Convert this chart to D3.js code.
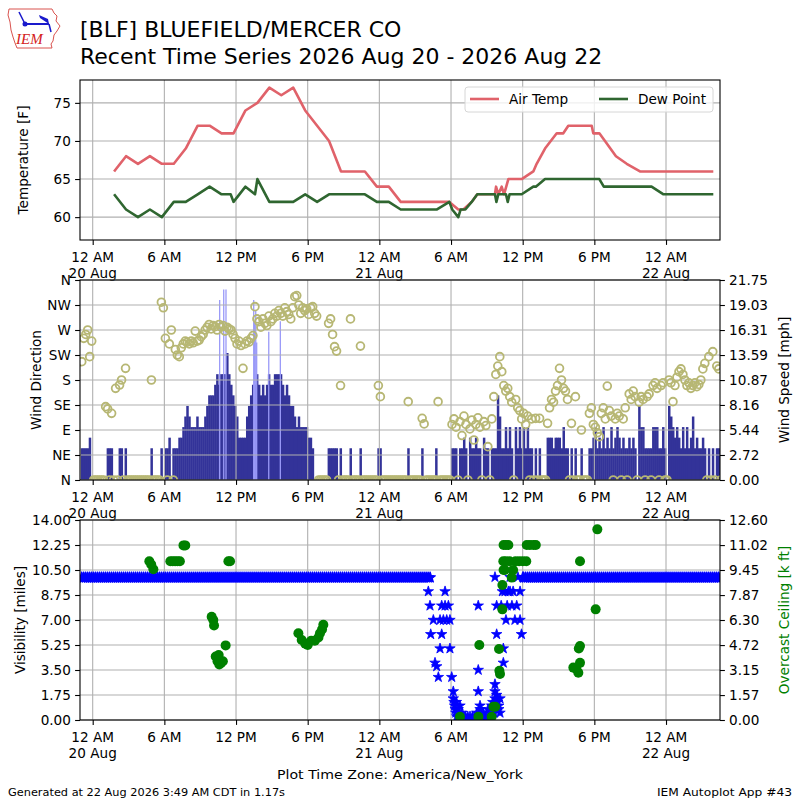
<!DOCTYPE html>
<html>
<head>
<meta charset="utf-8">
<script src="https://cdn.jsdelivr.net/npm/d3@7"></script>
<style>
html,body{margin:0;padding:0;background:#fff;}
svg{display:block;}
</style>
</head>
<body>
<svg id="chart" width="800" height="800"></svg>
<script>
// ======================= DATA =======================
const titleLines = ["[BLF] BLUEFIELD/MERCER CO", "Recent Time Series 2026 Aug 20 - 2026 Aug 22"];
const footerLeft = "Generated at 22 Aug 2026 3:49 AM CDT in 1.17s";
const footerRight = "IEM Autoplot App #43";
const timeZoneLabel = "Plot Time Zone: America/New_York";

// x axis: hours since 20 Aug 00:00 (America/New_York)
const xTickHours = [0, 6, 12, 18, 24, 30, 36, 42, 48];
const xTickLabels = [["12 AM","20 Aug"],["6 AM"],["12 PM"],["6 PM"],["12 AM","21 Aug"],["6 AM"],["12 PM"],["6 PM"],["12 AM","22 Aug"]];

// ---- temperature panel ----
const tempTicks = [60, 65, 70, 75];
const legendLabels = ["Air Temp", "Dew Point"];
const airTempHours = [1.79,2.79,3.79,4.79,5.79,6.79,7.79,8.79,9.79,10.79,11.79,12.79,13.79,14.79,15.79,16.79,17.79,18.79,19.79,20.79,21.79,22.79,23.79,24.79,25.79,26.79,27.79,28.79,
  29.86,30.61,31.03,31.73,32.2,33.68,33.77,33.96,34.24,34.44,34.8,35.92,36.89,37.17,37.87,38.85,39.4,39.82,40.79,41.78,41.91,42.42,42.89,43.81,44.71,45.82,46.79,47.79,48.79,49.79,50.79,51.96];
const airTempF = [66,68,67,68,67,67,69,72,72,71,71,74,75,77,76,77,74,72,70,66,66,66,64,64,62,62,62,62,
  62,61,61,62,63,63,64,63,64,63,65,65,66,67,69,71,71,72,72,72,71,71,70,68,67,66,66,66,66,66,66,66];
const dewPointHours = [1.79,2.79,3.79,4.79,5.79,6.79,7.79,8.79,9.79,10.79,11.55,11.79,12.79,13.59,13.79,14.79,15.79,16.79,17.79,18.79,19.79,20.79,21.79,22.79,23.79,24.79,25.79,26.79,27.79,28.79,
  29.86,30.1,30.61,30.8,31.2,31.73,32.2,33.68,33.8,33.96,34.6,34.75,34.9,35.92,36.89,37.1,37.87,42.42,42.79,46.79,47.79,51.96];
const dewPointF = [63,61,60,61,60,62,62,63,64,63,63,62,64,63,65,62,62,62,63,62,63,63,63,63,62,62,61,61,61,61,
  62,61,60,61,61,62,63,63,62,63,63,62,63,63,64,64,65,65,64,64,63,63];

// ---- wind panel (10-minute slots starting 19 Aug 23:00) ----
const SLOT_START_HOUR = -1;
const SLOT_HOURS = 1 / 6;
const KT_TO_MPH = 1.15078;
const dirTicks = [0, 45, 90, 135, 180, 225, 270, 315, 360];
const dirTickLabels = ["N","NE","E","SE","S","SW","W","NW","N"];
const speedTicksMph = [0, 2.72, 5.44, 8.16, 10.87, 13.59, 16.31, 19.03, 21.75];
const windSpeedKt = [
  3,3,3,3,4,0,0,0,0,0,  0,0,0,3,3,3,0,0,0,3,  3,0,3,0,0,0,0,0,0,0,  0,0,0,0,0,3,0,0,0,0,
  3,0,3,3,4,0,3,3,3,4,  4,5,6,7,6,5,5,5,6,5,  5,5,6,7,8,8,8,9,10,9,  10,10,10,12,10,9,8,7,6,4,
  4,4,4,6,7,8,9,9,10,9,  8,9,8,9,10,9,9,10,10,10,  10,9,8,9,8,7,7,6,5,6,  5,5,5,5,4,4,3,0,0,0,
  0,0,0,0,3,3,3,3,3,0,  3,0,0,0,0,3,0,0,0,0,  3,0,0,0,0,0,0,0,0,3,  3,0,0,0,0,0,0,0,0,0,
  0,0,0,0,3,0,0,0,0,0,  0,3,0,0,0,0,0,0,3,0,  0,0,0,0,0,0,3,3,3,0,  3,3,4,3,0,4,3,3,4,3,
  3,0,4,3,3,0,3,3,3,8,  6,3,3,5,3,5,3,0,5,3,  5,3,5,3,5,3,3,0,3,0,  3,0,0,0,4,4,4,3,4,4,
  4,3,5,3,3,0,3,0,3,0,  0,3,0,0,0,3,3,4,5,3,  4,3,5,3,4,3,5,3,4,5,  4,3,4,3,3,4,3,4,3,0,
  7,5,5,3,3,3,3,5,5,5,  3,3,5,3,0,7,6,5,4,5,  4,3,5,3,5,3,4,6,3,4,  3,3,4,3,0,3,0,3,0,3,
  3,0];
// direction in degrees, 0 = calm
const windDirDeg = [
  213,255,262,270,222,250,0,0,0,0,  0,0,132,128,0,120,0,165,0,171,  180,0,201,0,0,0,0,0,0,0,  0,0,0,0,0,180,0,0,0,0,
  320,310,255,0,245,270,0,235,225,222,  238,245,250,248,245,250,247,268,250,252,  258,262,270,275,280,272,278,276,270,280,  275,278,268,275,272,270,262,255,245,250,
  242,201,245,250,248,255,260,312,290,285,  275,290,282,278,295,285,290,300,295,305,  300,295,310,303,298,290,310,330,332,315,  300,310,305,308,298,310,312,300,295,0,
  0,0,0,0,282,290,262,240,232,0,  170,0,0,0,0,290,0,0,0,0,  241,0,0,0,0,0,0,0,0,170,  150,0,0,0,0,0,0,0,0,0,
  0,0,0,0,141,0,0,0,0,0,  0,111,101,0,0,0,0,0,0,141,  0,0,0,0,0,0,100,110,95,0,  105,80,115,100,0,92,108,72,100,112,
  95,0,105,98,60,0,110,150,190,205,  222,195,170,160,165,150,140,0,145,130,  125,110,120,100,115,0,110,0,111,0,  111,0,0,0,102,130,145,140,160,170,
  201,180,165,160,145,0,102,0,150,0,  0,90,0,0,0,120,130,100,95,85,  78,120,130,110,169,125,115,0,110,120,  115,0,110,130,0,155,145,160,150,0,
  140,150,145,0,150,155,0,170,175,165,  0,170,175,0,0,180,175,141,170,185,  195,200,190,180,170,175,165,170,175,168,  172,180,200,210,0,222,0,231,0,205,
  200,0];
const gustHours = [10.63,10.97,11.16,13.48,13.56,13.65,13.73,14.74,15.71];
const gustKt = [17,18,18,17,15,16,13,14,15];

// ---- visibility / ceiling panel ----
const visTicks = [0, 1.75, 3.5, 5.25, 7, 8.75, 10.5, 12.25, 14];
const ceilTicks = [0, 1.57, 3.15, 4.72, 6.30, 7.87, 9.45, 11.02, 12.60];
const visSlotMiles = [
  10,10,10,10,10,10,10,10,10,10,10,10,10,10,10,10,10,10,10,10,
  10,10,10,10,10,10,10,10,10,10,10,10,10,10,10,10,10,10,10,10,
  10,10,10,10,10,10,10,10,10,10,10,10,10,10,10,10,10,10,10,10,
  10,10,10,10,10,10,10,10,10,10,10,10,10,10,10,10,10,10,10,10,
  10,10,10,10,10,10,10,10,10,10,10,10,10,10,10,10,10,10,10,10,
  10,10,10,10,10,10,10,10,10,10,10,10,10,10,10,10,10,10,10,10,
  10,10,10,10,10,10,10,10,10,10,10,10,10,10,10,10,10,10,10,10,
  10,10,10,10,10,10,10,10,10,10,10,10,10,10,10,10,10,10,10,10,
  10,10,10,10,10,10,10,10,10,10,10,10,10,10,10,10,
  null,null,null,null,null,null,null,null,null,null,null,null,null,null,null,null,null,null,null,null,
  null,null,null,null,null,null,null,null,null,null,null,null,null,null,null,null,null,null,null,null,
  null,null,null,null,null,null,
  10,10,10,10,10,10,10,10,10,10,10,10,10,10,10,10,10,10,10,10,
  10,10,10,10,10,10,10,10,10,10,10,10,10,10,10,10,10,10,10,10,
  10,10,10,10,10,10,10,10,10,10,10,10,10,10,10,10,10,10,10,10,
  10,10,10,10,10,10,10,10,10,10,10,10,10,10,10,10,10,10,10,10,
  10,10,10,10,10,10,10,10,10,10,10,10,10,10,10,10,10,10,10,10];
const visObsHours = [28.1,28.24,28.3,28.52,28.66,28.8,28.94,29.08,29.08,29.22,29.22,29.36,29.5,29.5,29.64,29.78,29.91,29.91,30.06,30.19,30.19,30.25,30.3,30.35,30.4,30.45,30.48,30.6,30.6,30.75,30.75,30.9,30.9,31.03,31.2,31.4,31.59,31.8,32.0,32.15,32.28,32.28,32.28,32.43,32.43,32.43,32.6,32.7,32.85,33.0,33.1,33.26,33.26,33.4,33.5,33.6,33.68,33.68,33.68,33.68,33.75,33.82,33.82,33.82,33.9,34.0,34.0,34.1,34.1,34.2,34.3,34.38,34.38,34.52,34.6,34.7,34.8,34.94,34.94,35.1,35.2,35.35,35.5,35.6,35.78,35.78,35.9,36.0];
const visObsMiles = [9,8,6,7,4,3.75,3,7,5,8,6,7,9,8,7,8,7,5,3,2,1.5,1.25,1,0.75,0.5,1.25,0.25,0.25,0.75,0.25,1,0.25,0.5,0.25,0.25,0.25,0.25,0.25,0.25,0.5,2,3.5,8,1,0.75,0.25,0.25,0.5,0.25,0.25,0.75,0.25,0.5,1,1.25,0.5,10,1.5,2,2.5,0.75,8,6,1.75,1.25,1,0.75,0.5,1.5,8,9,5,4,9,7,8,9,10,9,8,9,7,8,10,7,9,6,10];
const ceilHours = [4.74,4.9,5.08,6.5,6.7,6.9,7.1,7.3,7.6,7.75,9.96,10.1,10.16,10.3,10.45,10.55,10.6,10.75,10.9,11.13,11.36,11.5,
  17.22,17.5,17.8,18.0,18.3,18.6,18.9,19.03,19.2,19.31,
  30.75,32.29,32.37,33.4,33.55,33.7,34.02,34.05,34.1,34.3,34.3,34.4,34.5,34.4,34.6,34.8,34.38,34.6,34.9,35.08,35.2,35.4,35.7,36.0,36.3,36.34,36.6,36.89,37.1,
  40.24,40.5,40.66,40.8,40.8,40.7,40.8,42.11,42.25];
const ceilKft = [10.0,9.8,9.5,10,10,10,10,10,11,11,6.5,6.3,5.95,4.0,3.7,4.1,3.5,3.6,3.7,4.7,10.0,10.0,
  5.46,5.04,4.8,4.73,5.0,5.0,5.2,5.46,5.7,6.0,
  0.2,0.2,4.73,0.2,0.84,0.84,4.47,3.1,2.9,6.97,8.5,9.45,9.45,11.03,11.03,11.03,10,10,10,8.97,9.45,10,10,10,10,11.03,11.03,11.03,11.03,
  3.3,3.2,2.98,3.6,4.66,4.5,10,6.97,12.01];

// ======================= STYLE =======================
const FONT = "'DejaVu Sans', sans-serif";
const FS = 13.6;
const GRID = "#b0b0b0";
const AIR = "#e0626a";
const DEW = "#2f6630";
const BAR = "#333399";
const GUST = "#9a9af8";
const DIRC = "#b7b774";
const VISC = "#0000ff";
const CEILC = "#008000";

// ======================= CHART =======================
const svg = d3.select("#chart");
svg.append("rect").attr("width", 800).attr("height", 800).attr("fill", "#fff");

const P = { t: {top: 80, bottom: 240}, w: {top: 280, bottom: 480}, v: {top: 520, bottom: 720} };
const x = d3.scaleLinear().domain([-1.063, 52.52]).range([80, 720]);
const yT = d3.scaleLinear().domain([57, 78]).range([P.t.bottom, P.t.top]);
const yDir = d3.scaleLinear().domain([0, 360]).range([P.w.bottom, P.w.top]);
const ySpd = d3.scaleLinear().domain([0, 21.75]).range([P.w.bottom, P.w.top]);
const yVis = d3.scaleLinear().domain([0, 14]).range([P.v.bottom, P.v.top]);
const yCeil = d3.scaleLinear().domain([0, 12.6]).range([P.v.bottom, P.v.top]);
const slotHour = i => SLOT_START_HOUR + i * SLOT_HOURS;

const defs = svg.append("defs");
function addClip(id, p) {
  defs.append("clipPath").attr("id", id).append("rect")
    .attr("x", 80).attr("y", p.top).attr("width", 640).attr("height", p.bottom - p.top);
}
addClip("clipT", P.t); addClip("clipW", P.w); addClip("clipV", P.v);

function grid(p, yScale, yTicks) {
  const g = svg.append("g");
  g.selectAll("line.gv").data(xTickHours).join("line").attr("class", "gv")
    .attr("x1", d => x(d)).attr("x2", d => x(d)).attr("y1", p.top).attr("y2", p.bottom)
    .attr("stroke", GRID).attr("stroke-width", 1.1);
  g.selectAll("line.gh").data(yTicks).join("line").attr("class", "gh")
    .attr("x1", 80).attr("x2", 720).attr("y1", d => yScale(d)).attr("y2", d => yScale(d))
    .attr("stroke", GRID).attr("stroke-width", 1.1);
}
function styleAxis(g) {
  g.select(".domain").remove();
  g.attr("font-size", null).attr("font-family", null);
  g.selectAll(".tick line").attr("stroke", "#000").attr("stroke-width", 1.1);
  g.selectAll(".tick text").attr("font-size", FS).attr("font-family", FONT).attr("fill", "#000");
}
function xAxis(p) {
  const g = svg.append("g").attr("transform", `translate(0,${p.bottom})`)
    .call(d3.axisBottom(x).tickValues(xTickHours).tickSize(4.9).tickFormat(() => ""));
  styleAxis(g);
  g.selectAll(".tick text").remove();
  const lab = svg.append("g").attr("font-family", FONT).attr("font-size", FS);
  xTickHours.forEach((h, i) => {
    const t = lab.append("text").attr("x", x(h)).attr("y", p.bottom + 21.5).attr("text-anchor", "middle");
    xTickLabels[i].forEach((s, j) => t.append("tspan").attr("x", x(h)).attr("dy", j === 0 ? 0 : 16.6).text(s));
  });
}
function leftAxis(scale, ticks, fmt) {
  const g = svg.append("g").attr("transform", "translate(80,0)")
    .call(d3.axisLeft(scale).tickValues(ticks).tickSize(4.9).tickPadding(4.2).tickFormat(fmt));
  styleAxis(g);
}
function rightAxis(scale, ticks, fmt) {
  const g = svg.append("g").attr("transform", "translate(720,0)")
    .call(d3.axisRight(scale).tickValues(ticks).tickSize(4.9).tickPadding(4.2).tickFormat(fmt));
  styleAxis(g);
}
function frame(p) {
  svg.append("rect").attr("x", 80).attr("y", p.top).attr("width", 640).attr("height", p.bottom - p.top)
    .attr("fill", "none").attr("stroke", "#000").attr("stroke-width", 1.1);
}
function vLabel(text, xpos, yc, color) {
  svg.append("text").attr("transform", `translate(${xpos},${yc}) rotate(-90)`)
    .attr("text-anchor", "middle").attr("font-family", FONT).attr("font-size", FS)
    .attr("fill", color || "#000").text(text);
}

// ---------- Panel 1: temperature ----------
grid(P.t, yT, tempTicks);
const gT = svg.append("g").attr("clip-path", "url(#clipT)");
const tLine = d3.line().x(d => x(d[0])).y(d => yT(d[1]));
gT.append("path").datum(d3.zip(airTempHours, airTempF)).attr("d", tLine)
  .attr("fill", "none").attr("stroke", AIR).attr("stroke-width", 2.6).attr("stroke-linejoin", "round");
gT.append("path").datum(d3.zip(dewPointHours, dewPointF)).attr("d", tLine)
  .attr("fill", "none").attr("stroke", DEW).attr("stroke-width", 2.6).attr("stroke-linejoin", "round");
leftAxis(yT, tempTicks, d => d);
xAxis(P.t);
frame(P.t);
vLabel("Temperature [F]", 28, 160);
// legend
const lg = svg.append("g").attr("font-family", FONT).attr("font-size", FS);
lg.append("rect").attr("x", 465).attr("y", 87).attr("width", 248).attr("height", 25).attr("rx", 3)
  .attr("fill", "#fff").attr("fill-opacity", 0.8).attr("stroke", "#d6d6d6");
[[AIR, 470, 509], [DEW, 599, 638]].forEach((c, i) => {
  lg.append("line").attr("x1", c[1]).attr("x2", c[1] + 29).attr("y1", 99).attr("y2", 99)
    .attr("stroke", c[0]).attr("stroke-width", 2.6);
  lg.append("text").attr("x", c[2]).attr("y", 104).text(legendLabels[i]);
});

// ---------- Panel 2: wind ----------
const gW = svg.append("g").attr("clip-path", "url(#clipW)");
gW.selectAll("rect.spd").data(windSpeedKt.map((v, i) => ({i, v})).filter(d => d.v > 0)).join("rect")
  .attr("class", "spd")
  .attr("x", d => x(slotHour(d.i))).attr("width", d => x(slotHour(d.i + 1)) - x(slotHour(d.i)) + 0.5)
  .attr("y", d => ySpd(d.v * KT_TO_MPH)).attr("height", d => ySpd(0) - ySpd(d.v * KT_TO_MPH))
  .attr("fill", BAR);
gW.selectAll("line.gust").data(d3.zip(gustHours, gustKt)).join("line").attr("class", "gust")
  .attr("x1", d => x(d[0])).attr("x2", d => x(d[0]))
  .attr("y1", ySpd(0)).attr("y2", d => ySpd(d[1] * KT_TO_MPH))
  .attr("stroke", GUST).attr("stroke-width", 1.3);
grid(P.w, yDir, dirTicks);
const gW2 = svg.append("g").attr("clip-path", "url(#clipW)");
gW2.selectAll("circle").data(windDirDeg.map((v, i) => ({i, v})).filter(d => d.v !== null)).join("circle")
  .attr("cx", d => x(slotHour(d.i) + SLOT_HOURS / 2)).attr("cy", d => yDir(d.v))
  .attr("r", 3.9).attr("fill", "none").attr("stroke", DIRC).attr("stroke-width", 1.8);
leftAxis(yDir, dirTicks, (d, i) => dirTickLabels[i]);
rightAxis(ySpd, speedTicksMph, d => d.toFixed(2));
xAxis(P.w);
frame(P.w);
vLabel("Wind Direction", 41, 380);
vLabel("Wind Speed [mph]", 789, 380);

// ---------- Panel 3: visibility & ceiling ----------
grid(P.v, yVis, visTicks);
const gV = svg.append("g").attr("clip-path", "url(#clipV)");
const star = d3.symbol().type(d3.symbolStar).size(34);
gV.selectAll("path.vband").data(visSlotMiles.map((v, i) => ({i, v})).filter(d => d.v !== null)).join("path")
  .attr("class", "vband").attr("d", star)
  .attr("transform", d => `translate(${x(slotHour(d.i) + SLOT_HOURS / 2)},${yVis(d.v) + 0.4})`)
  .attr("fill", VISC).attr("stroke", VISC).attr("stroke-width", 1.3).attr("stroke-linejoin", "round");
gV.selectAll("path.vobs").data(d3.zip(visObsHours, visObsMiles)).join("path")
  .attr("class", "vobs").attr("d", star)
  .attr("transform", d => `translate(${x(d[0])},${yVis(d[1])})`)
  .attr("fill", VISC).attr("stroke", VISC).attr("stroke-width", 0.8);
gV.selectAll("circle.ceil").data(d3.zip(ceilHours, ceilKft)).join("circle")
  .attr("class", "ceil").attr("cx", d => x(d[0])).attr("cy", d => yCeil(d[1]))
  .attr("r", 5).attr("fill", CEILC);
leftAxis(yVis, visTicks, d => d.toFixed(2));
rightAxis(yCeil, ceilTicks, d => d.toFixed(2));
xAxis(P.v);
frame(P.v);
vLabel("Visibility [miles]", 25, 620);
vLabel("Overcast Ceiling [k ft]", 789, 620, CEILC);

// ---------- titles & footer ----------
svg.append("text").attr("x", 80).attr("y", 36.5).attr("font-family", FONT).attr("font-size", 22).text(titleLines[0]);
svg.append("text").attr("x", 80).attr("y", 63.5).attr("font-family", FONT).attr("font-size", 22).text(titleLines[1]);
svg.append("text").attr("x", 400).attr("y", 779).attr("text-anchor", "middle").attr("font-family", FONT)
  .attr("font-size", 13).attr("textLength", 246).attr("lengthAdjust", "spacingAndGlyphs").text(timeZoneLabel);
svg.append("text").attr("x", 8).attr("y", 796).attr("font-family", FONT)
  .attr("font-size", 11).attr("textLength", 277).attr("lengthAdjust", "spacingAndGlyphs").text(footerLeft);
svg.append("text").attr("x", 792).attr("y", 796).attr("text-anchor", "end").attr("font-family", FONT)
  .attr("font-size", 11).attr("textLength", 135).attr("lengthAdjust", "spacingAndGlyphs").text(footerRight);

// ---------- logo ----------
const logo = svg.append("g");
logo.append("path")
  .attr("d", "M9,9 L52,9 L54,13 L57,16 L56,21 L60,26 L57,31 L54,35 L53,41 L51,44 L52,48 L17,48 L15,43 L13,37 L11,30 L10,22 L8,15 Z")
  .attr("fill", "none").attr("stroke", "#d9534f").attr("stroke-width", 1);
logo.append("line").attr("x1", 25).attr("y1", 24).attr("x2", 49).attr("y2", 24).attr("stroke", "#1a1acc").attr("stroke-width", 2);
logo.append("line").attr("x1", 25).attr("y1", 24).attr("x2", 19).attr("y2", 12).attr("stroke", "#1a1acc").attr("stroke-width", 1.5);
logo.append("circle").attr("cx", 25).attr("cy", 24).attr("r", 2.5).attr("fill", "#1a1acc");
logo.append("path").attr("d", "M39,15 L48,19 L49,24 L40,18 Z").attr("fill", "#1a1acc");
logo.append("line").attr("x1", 49).attr("y1", 24).attr("x2", 51).attr("y2", 32).attr("stroke", "#1a1acc").attr("stroke-width", 1.5);
logo.append("text").attr("x", 16).attr("y", 44).attr("font-family", "'Liberation Serif', serif")
  .attr("font-style", "italic").attr("font-size", 15).attr("fill", "#d42020").text("IEM");
</script>
</body>
</html>
